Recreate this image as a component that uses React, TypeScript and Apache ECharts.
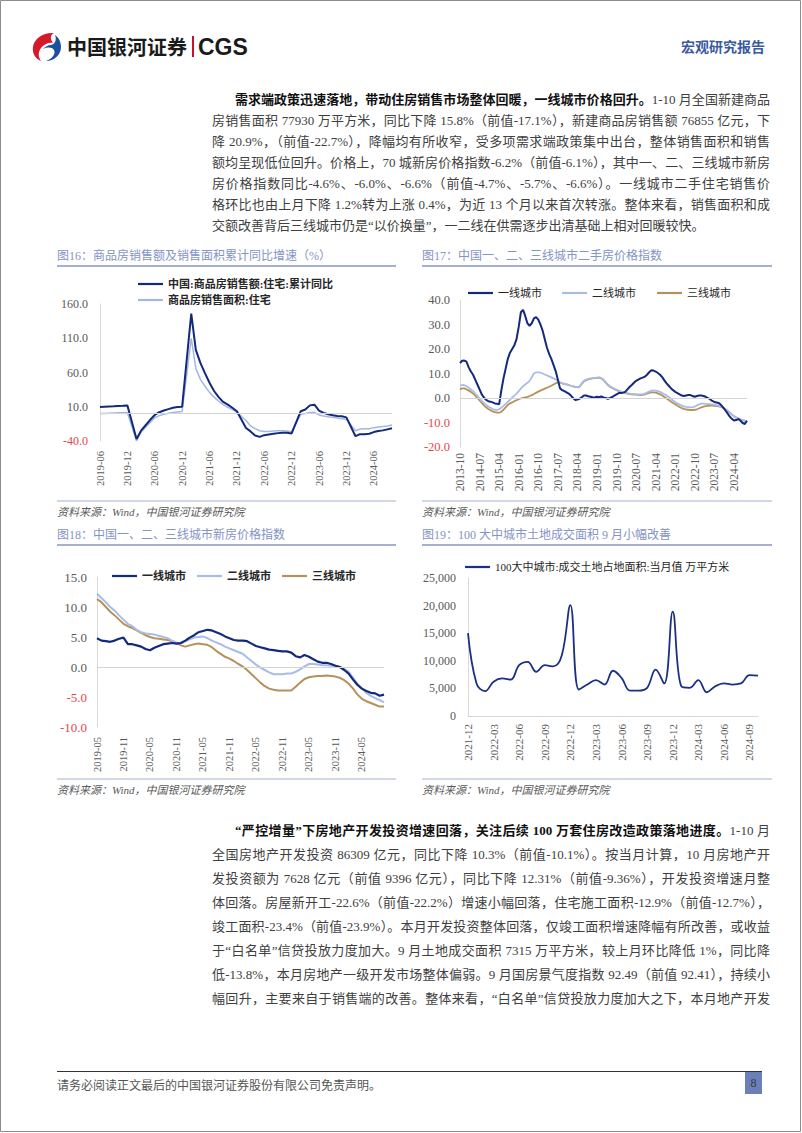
import React, { useEffect, useRef } from "react";
import * as echarts from "echarts";

// ---------- logo shapes ----------
const LOGO_RED =
  "M24 1 C14 0 4 6 3 15 C2 22 6 27 11 29 C8 25 8 20 11 16 C14 12 19 10 23 11 C20 7 20 3 24 1 Z";
const LOGO_BLUE =
  "M13 17 C17 15 22 15 24 18 C26 22 22 27 16 29 C24 29 31 23 31 15 C31 9 28 5 25 3 C27 8 25 12 21 13 C18 13 15 15 13 17 Z";
echarts.graphic.registerShape("logoRed", echarts.graphic.extendPath(LOGO_RED, {}));
echarts.graphic.registerShape("logoBlue", echarts.graphic.extendPath(LOGO_BLUE, {}));

function months(y: number, m: number, n: number): string[] {
  const out: string[] = [];
  for (let i = 0; i < n; i++) {
    const t = m - 1 + i;
    const yy = y + Math.floor(t / 12);
    const mm = (t % 12) + 1;
    out.push(`${yy}-${String(mm).padStart(2, "0")}`);
  }
  return out;
}

// ---------- Chart 16 data (2019-06 .. 2024-10) ----------
const cats16 = months(2019, 6, 65);
const sales16 = [
  9.5, 10.0, 10.5, 10.8, 11.2, 11.5, 12.0, null, -37.0, -25.0, -17.0, -9.0, -2.0, 2.0, 4.5, 6.5, 8.5, 9.5, 10.0,
  null, 146.0, 93.0, 74.0, 59.0, 45.0, 33.0, 24.0, 17.0, 13.0, 8.5, 3.5,
  null, -21.0, -26.0, -32.0, -34.0, -31.5, -30.5, -29.5, -28.5, -28.0, -28.0, -29.0,
  null, 3.5, 6.0, 12.0, 13.0, 4.5, 1.0, -1.0, -2.5, -3.5, -4.0, -5.5,
  null, -33.0, -30.0, -30.0, -29.5, -27.0, -25.5, -24.5, -23.0, -21.5,
];
const area16 = [
  0.0, 0.3, 0.6, 0.9, 1.2, 1.4, 1.5, null, -40.0, -27.0, -20.0, -13.0, -6.0, -3.0, -1.0, 0.5, 1.5, 2.5, 3.2,
  null, 110.0, 66.0, 50.0, 40.0, 31.0, 24.0, 18.0, 13.0, 9.0, 6.0, 2.0,
  null, -10.0, -18.0, -22.0, -25.0, -26.0, -26.0, -25.5, -25.0, -25.0, -25.5, -26.5,
  null, -1.0, 0.0, 1.5, 1.8, -2.0, -3.5, -4.5, -5.5, -6.5, -7.5, -8.2,
  null, -25.0, -22.5, -22.0, -22.0, -20.5, -19.5, -19.0, -18.0, -16.5,
];

// ---------- Chart 17 data (2013-10 .. 2024-10) ----------
const cats17 = months(2013, 10, 133);
const used1 = [
  14.3, 15.2, 15.3, 14.8, 12.5, 10.8, 9.5, 7.5, 5.5, 3.5, 1.5, 0.2, -0.8, -1.3, -1.5, -1.8, -2.2, -2.3, -2.6, 3.0,
  8.0, 12.0, 16.0, 18.5, 20.0, 21.5, 24.0, 29.0, 35.0, 36.0, 33.5, 30.5, 29.5, 30.5, 32.5, 33.0, 32.0, 30.0, 27.5, 24.0,
  20.5, 18.0, 16.0, 13.5, 11.0, 7.5, 4.0, 3.2, 2.8, 2.3, 1.8, 1.0, 0.0, -0.8, -0.6, -0.3, 0.3, 1.0, 1.0, 0.7,
  0.5, 0.3, 0.2, 0.5, 0.3, 0.6, 0.2, 0.0, -0.3, 0.0, 0.4, 1.0, 1.5, 2.0, 2.0, 2.2, 2.5, 3.5, 4.5, 5.3,
  6.2, 7.0, 7.5, 8.0, 8.3, 8.7, 9.5, 10.5, 11.3, 11.2, 10.8, 10.2, 9.5, 8.5, 7.2, 6.0, 5.0, 4.0, 3.2, 2.5,
  2.0, 1.5, 1.0, 0.8, 1.0, 1.2, 1.2, 0.8, 0.5, 0.8, 1.0, 1.0, 0.8, 0.5, 0.0, -0.5, -1.2, -1.6, -1.8, -2.0,
  -2.8, -3.8, -5.0, -6.2, -7.5, -8.5, -9.2, -9.0, -8.6, -9.3, -10.2, -10.6, -9.3,
];
const used2 = [
  5.0, 5.3, 5.2, 4.8, 4.2, 3.5, 2.8, 1.8, 0.8, -0.2, -1.2, -2.0, -2.8, -3.5, -4.0, -4.5, -4.8, -4.9, -4.6, -4.0,
  -3.2, -2.4, -1.6, -0.8, 0.2, 1.0, 1.8, 2.8, 3.8, 4.8, 5.5, 6.2, 7.0, 8.5, 10.0, 10.5, 10.5, 10.4, 10.0, 9.6,
  9.2, 8.8, 8.4, 8.0, 7.6, 7.0, 6.4, 6.0, 5.8, 5.6, 5.3, 5.0, 4.7, 4.5, 4.4, 4.8, 6.0, 7.0, 7.5, 7.8,
  8.0, 8.1, 8.2, 8.3, 8.4, 8.2, 7.5, 6.5, 5.5, 4.8, 4.3, 3.8, 3.4, 3.0, 2.7, 2.4, 2.2, 2.0, 1.8, 1.7,
  1.6, 1.6, 1.5, 1.5, 1.6, 1.8, 2.2, 2.6, 3.0, 3.0, 3.0, 2.8, 2.5, 2.0, 1.5, 1.0, 0.4, -0.3, -1.0, -1.6,
  -2.2, -2.7, -3.1, -3.4, -3.6, -3.7, -3.8, -3.7, -3.5, -3.0, -2.6, -2.3, -2.3, -2.4, -2.5, -2.5, -2.6, -2.7, -2.9, -3.1,
  -3.5, -4.0, -4.5, -5.2, -6.0, -6.8, -7.5, -8.0, -8.4, -8.8, -9.1, -9.3, -9.3,
];
const used3 = [
  3.5, 3.9, 3.9, 3.5, 3.0, 2.5, 1.8, 1.0, 0.0, -1.0, -2.0, -3.0, -3.8, -4.5, -5.0, -5.5, -5.8, -6.0, -6.0, -5.6,
  -4.8, -3.8, -2.8, -2.2, -1.8, -1.3, -0.9, -0.5, -0.2, 0.1, 0.3, 0.5, 0.8, 1.2, 1.6, 2.1, 2.6, 3.0, 3.4, 3.8,
  4.2, 4.6, 5.0, 5.5, 6.0, 6.4, 6.3, 6.0, 5.8, 5.6, 5.3, 5.0, 4.7, 4.5, 4.3, 4.6, 5.8, 6.8, 7.3, 7.6,
  7.8, 8.0, 8.1, 8.2, 8.3, 8.0, 7.3, 6.3, 5.3, 4.6, 4.1, 3.6, 3.2, 2.8, 2.5, 2.2, 2.0, 1.8, 1.6, 1.5,
  1.4, 1.4, 1.3, 1.2, 1.3, 1.5, 1.8, 2.1, 2.3, 2.3, 2.2, 1.9, 1.5, 1.0, 0.4, -0.2, -0.8, -1.4, -2.0, -2.6,
  -3.2, -3.7, -4.1, -4.4, -4.7, -4.8, -4.9, -4.9, -4.8, -4.6, -4.2, -3.8, -3.5, -3.3, -3.2, -3.1, -3.1, -3.2, -3.3, -3.4,
  -3.6, -4.0, -4.5, -5.2, -5.9, -6.7, -7.4, -7.9, -8.3, -8.7, -9.0, -9.2, -9.3,
];

// ---------- Chart 18 data (2019-05 .. 2024-10) ----------
const cats18 = months(2019, 5, 66);
const new1 = [
  4.8, 4.4, 4.3, 4.2, 4.4, 4.7, 4.9, 3.8, 3.8, 3.6, 3.4, 3.0, 2.8, 3.2, 3.5, 3.8, 3.9, 4.0, 3.9, 4.0,
  4.4, 4.9, 5.3, 5.8, 6.0, 6.2, 6.1, 5.8, 5.5, 5.1, 4.8, 4.5, 4.4, 4.4, 4.3, 3.9, 3.5, 3.3, 3.1, 2.9,
  2.8, 2.7, 2.6, 2.6, 2.4, 1.8, 1.6, 2.0, 1.7, 1.3, 0.9, 0.7, 0.7, 0.5, 0.2, 0.0, -0.5, -1.1, -2.1, -3.0,
  -3.6, -4.0, -4.3, -4.4, -4.8, -4.6,
];
const new2 = [
  12.2, 11.5, 10.8, 10.0, 9.4, 8.6, 7.9, 7.2, 6.8, 6.2, 5.8, 5.6, 5.5, 5.4, 5.2, 5.0, 4.8, 4.4, 4.1, 3.9,
  4.3, 4.6, 4.9, 5.0, 5.1, 4.8, 4.4, 4.1, 3.8, 3.4, 3.1, 2.8, 2.5, 2.2, 1.6, 1.0, 0.4, -0.1, -0.5, -0.9,
  -1.2, -1.2, -1.2, -1.1, -1.1, -0.8, -0.4, 0.1, 0.5, 0.5, 0.4, 0.3, 0.3, 0.2, 0.2, 0.0, -0.3, -0.8, -1.8, -2.8,
  -3.6, -4.3, -4.8, -5.2, -5.5, -5.9,
];
const new3 = [
  11.3, 10.8, 10.0, 9.2, 8.6, 7.9, 7.2, 6.8, 6.5, 6.1, 5.7, 5.3, 5.0, 4.8, 4.7, 4.6, 4.5, 4.3, 4.0, 3.6,
  3.4, 3.6, 3.8, 3.9, 3.8, 3.7, 3.3, 2.7, 2.2, 1.7, 1.4, 1.0, 0.5, 0.1, -0.5, -1.2, -1.9, -2.6, -3.2, -3.6,
  -3.8, -3.9, -3.9, -3.9, -3.9, -3.3, -2.6, -2.0, -1.7, -1.6, -1.5, -1.5, -1.4, -1.5, -1.6, -1.8, -2.2, -2.8, -3.6, -4.6,
  -5.3, -5.7, -6.0, -6.3, -6.6, -6.6,
];

// ---------- Chart 19 data (2021-12 .. 2024-10) ----------
const cats19 = months(2021, 12, 35);
const land19 = [
  15000, 5900, 4500, 6200, 6800, 6600, 9200, 9800, 8000, 9200, 9000, 11000, 20100, 4800, 5700, 6500, 5700, 8200,
  6900, 4600, 4600, 5100, 8400, 5900, 18900, 5400, 5100, 6500, 4300, 5400, 5900, 5700, 5900, 7400, 7315,
];

// ---------- text ----------
const NUM_FONT = '"Liberation Serif", "Noto Sans CJK SC", serif';
const CJK_FONT = '"Noto Sans CJK SC", sans-serif';
const DARK = "#13297b";
const LIGHT = "#a9bce6";
const TAN = "#b6915a";
const LABEL = "#595959";
const NEG = "#e5474b";
const AXIS = "#d9d9d9";
const TITLE = "#8593c6";
const RULE = "#a6b0d2";

const S16A = "中国:商品房销售额:住宅:累计同比";
const S16B = "商品房销售面积:住宅";
const T1 = "一线城市";
const T2 = "二线城市";
const T3 = "三线城市";
const S19 = "100大中城市:成交土地占地面积:当月值 万平方米";

const P1 = [
  { b: "需求端政策迅速落地，带动住房销售市场整体回暖，一线城市价格回升。", t: "1-10 月全国新建商品" },
  { b: "", t: "房销售面积 77930 万平方米，同比下降 15.8%（前值-17.1%），新建商品房销售额 76855 亿元，下" },
  { b: "", t: "降 20.9%，（前值-22.7%），降幅均有所收窄，受多项需求端政策集中出台，整体销售面积和销售" },
  { b: "", t: "额均呈现低位回升。价格上，70 城新房价格指数-6.2%（前值-6.1%），其中一、二、三线城市新房" },
  { b: "", t: "房价格指数同比-4.6%、-6.0%、-6.6%（前值-4.7%、-5.7%、-6.6%）。一线城市二手住宅销售价" },
  { b: "", t: "格环比也由上月下降 1.2%转为上涨 0.4%，为近 13 个月以来首次转涨。整体来看，销售面积和成" },
  { b: "", t: "交额改善背后三线城市仍是“以价换量”，一二线在供需逐步出清基础上相对回暖较快。", last: true },
];
const P2 = [
  { b: "“严控增量”下房地产开发投资增速回落，关注后续 100 万套住房改造政策落地进度。", t: "1-10 月" },
  { b: "", t: "全国房地产开发投资 86309 亿元，同比下降 10.3%（前值-10.1%）。按当月计算，10 月房地产开" },
  { b: "", t: "发投资额为 7628 亿元（前值 9396 亿元），同比下降 12.31%（前值-9.36%），开发投资增速月整" },
  { b: "", t: "体回落。房屋新开工-22.6%（前值-22.2%）增速小幅回落，住宅施工面积-12.9%（前值-12.7%），" },
  { b: "", t: "竣工面积-23.4%（前值-23.9%）。本月开发投资整体回落，仅竣工面积增速降幅有所改善，或收益" },
  { b: "", t: "于“白名单”信贷投放力度加大。9 月土地成交面积 7315 万平方米，较上月环比降低 1%，同比降" },
  { b: "", t: "低-13.8%，本月房地产一级开发市场整体偏弱。9 月国房景气度指数 92.49（前值 92.41），持续小" },
  { b: "", t: "幅回升，主要来自于销售端的改善。整体来看，“白名单”信贷投放力度加大之下，本月地产开发" },
];

function xAxisCfg(gridIndex: number, data: string[], interval: number, fontSize: number, margin: number, line: boolean) {
  return {
    type: "category",
    gridIndex,
    data,
    boundaryGap: false,
    axisLine: { show: line, onZero: false, lineStyle: { color: AXIS, width: 1 } },
    axisTick: { show: false },
    splitLine: { show: false },
    axisLabel: { rotate: 90, interval, fontSize, margin, color: LABEL, fontFamily: NUM_FONT },
  };
}

function yAxisCfg(gridIndex: number, min: number, max: number, interval: number, fontSize: number, margin: number, fmt: (v: number) => string, redNeg: boolean) {
  return {
    type: "value",
    gridIndex,
    min,
    max,
    interval,
    axisLine: { show: true, lineStyle: { color: AXIS, width: 1 } },
    axisTick: { show: false },
    splitLine: { show: false },
    axisLabel: {
      formatter: fmt,
      color: (v: any) => (redNeg && Number(v) < 0 ? NEG : LABEL),
      fontSize,
      margin,
      fontFamily: NUM_FONT,
    },
  };
}

const zeroLine = {
  silent: true,
  symbol: "none",
  label: { show: false },
  lineStyle: { color: "#d4d4d4", width: 1, type: "solid" },
  data: [{ yAxis: 0 }],
};

function lineSeries(name: string, x: number, data: any[], color: string, width: number, extra: any = {}) {
  return {
    type: "line",
    name,
    xAxisIndex: x,
    yAxisIndex: x,
    data,
    symbol: "none",
    connectNulls: true,
    lineStyle: { color, width },
    itemStyle: { color },
    emphasis: { disabled: true },
    ...extra,
  };
}

function legendAt(left: number, top: number, names: string[], bold: boolean, orient = "horizontal", gap = 10) {
  return {
    left,
    top,
    orient,
    padding: 0,
    itemGap: gap,
    icon: "rect",
    itemWidth: 25,
    itemHeight: 2.2,
    data: names,
    selectedMode: false,
    textStyle: { fontSize: 11, color: "#262626", fontWeight: bold ? "bold" : "normal", fontFamily: NUM_FONT, lineHeight: 14 },
  };
}

function txt(x: number, y: number, text: string, font: string, fill: string, align = "left") {
  return { type: "text", x, y, silent: true, style: { text, font, fill, align, verticalAlign: "middle" } };
}
function hline(x1: number, x2: number, y: number, stroke: string, w: number) {
  return { type: "line", silent: true, shape: { x1, y1: y, x2, y2: y }, style: { stroke, lineWidth: w } };
}

function buildOption(): any {
  const fmt1 = (v: number) => Number(v).toFixed(1);
  const fmtK = (v: number) => Number(v).toLocaleString("en-US");
  const srcText = "资料来源：Wind，中国银河证券研究院";
  const srcFont = `italic 11px ${NUM_FONT}`;
  const titleFont = `12px ${NUM_FONT}`;
  return {
    animation: false,
    grid: [
      { left: 100, top: 304, width: 292, height: 137 },
      { left: 460, top: 300, width: 287, height: 147 },
      { left: 97, top: 577, width: 287, height: 150 },
      { left: 468, top: 578, width: 290, height: 138 },
    ],
    xAxis: [
      xAxisCfg(0, cats16, 5, 10.5, 10, false),
      xAxisCfg(1, cats17, 8, 11.5, 6, false),
      xAxisCfg(2, cats18, 5, 10.5, 10, false),
      xAxisCfg(3, cats19, 2, 11, 8, true),
    ],
    yAxis: [
      yAxisCfg(0, -40, 160, 50, 12, 12, fmt1, true),
      yAxisCfg(1, -20, 40, 10, 12.5, 10, fmt1, true),
      yAxisCfg(2, -10, 15, 5, 13, 10, fmt1, true),
      yAxisCfg(3, 0, 25000, 5000, 12, 12, fmtK, false),
    ],
    legend: [
      legendAt(138, 277, [S16A, S16B], true, "vertical", 2),
      legendAt(468, 286, [T1], false),
      legendAt(562, 286, [T2], false),
      legendAt(657, 286, [T3], false),
      legendAt(112, 569, [T1], true),
      legendAt(197, 569, [T2], true),
      legendAt(282, 569, [T3], true),
      legendAt(465, 560, [S19], false),
    ],
    series: [
      lineSeries(S16B, 0, area16, "#a4b7e2", 1.5, { markLine: zeroLine }),
      lineSeries(S16A, 0, sales16, DARK, 2),
      lineSeries(T3, 1, used3, TAN, 1.8, { markLine: zeroLine }),
      lineSeries(T2, 1, used2, LIGHT, 1.8),
      lineSeries(T1, 1, used1, DARK, 2),
      lineSeries(T3, 2, new3, TAN, 2, { markLine: zeroLine }),
      lineSeries(T2, 2, new2, LIGHT, 2),
      lineSeries(T1, 2, new1, DARK, 2.2),
      lineSeries(S19, 3, land19, "#1b2f84", 1.8, { smooth: 0.4 }),
    ],
    graphic: [
      // page frame
      { type: "rect", silent: true, shape: { x: 0.5, y: 0.5, width: 800, height: 1131 }, style: { fill: "none", stroke: "#8c8c8c", lineWidth: 1 } },
      // header
      { type: "logoRed", x: 30, y: 32, scaleX: 1, scaleY: 1, silent: true, style: { fill: "#d7182a" } },
      { type: "logoBlue", x: 30, y: 32, scaleX: 1, scaleY: 1, silent: true, style: { fill: "#1d4fa0" } },
      txt(67, 46, "中国银河证券", `bold 20px ${CJK_FONT}`, "#1a1a1a"),
      { type: "rect", silent: true, shape: { x: 192, y: 36, width: 2, height: 21 }, style: { fill: "#c8102e" } },
      txt(198, 47, "CGS", `bold 23px "Liberation Sans", Arial, sans-serif`, "#1a1a1a"),
      txt(765, 46, "宏观研究报告", `bold 14px ${CJK_FONT}`, "#3b5a9f", "right"),
      // chart titles and rules
      txt(57, 256, "图16：商品房销售额及销售面积累计同比增速（%）", titleFont, TITLE),
      hline(57, 396, 266, RULE, 2),
      txt(422, 256, "图17：中国一、二、三线城市二手房价格指数", titleFont, TITLE),
      hline(422, 772, 266, RULE, 2),
      hline(57, 396, 501, RULE, 1),
      hline(422, 772, 501, RULE, 1),
      txt(57, 512, srcText, srcFont, "#595959"),
      txt(422, 512, srcText, srcFont, "#595959"),
      txt(57, 535, "图18：中国一、二、三线城市新房价格指数", titleFont, TITLE),
      hline(57, 396, 545, RULE, 2),
      txt(422, 535, "图19：100 大中城市土地成交面积 9 月小幅改善", titleFont, TITLE),
      hline(422, 772, 545, RULE, 2),
      hline(57, 396, 779, RULE, 1),
      hline(422, 772, 779, RULE, 1),
      txt(57, 790, srcText, srcFont, "#595959"),
      txt(422, 790, srcText, srcFont, "#595959"),
      // footer
      hline(57, 762, 1071.5, "#333333", 1),
      txt(57, 1084, "请务必阅读正文最后的中国银河证券股份有限公司免责声明。", `12px ${CJK_FONT}`, "#555555"),
      { type: "rect", silent: true, shape: { x: 745, y: 1072, width: 17, height: 22 }, style: { fill: "#6b80b9" } },
      txt(753.5, 1083, "8", `12px ${NUM_FONT}`, "#3a3a3a", "center"),
    ],
  };
}

function ParaLine(props: { x: number; y: number; w: number; b: string; t: string; last?: boolean }) {
  const { x, y, w, b, t, last } = props;
  const align: any = last ? "left" : "justify";
  return (
    <div
      style={{
        position: "absolute",
        left: x,
        top: y - 10,
        width: w,
        height: 20,
        lineHeight: "20px",
        fontSize: 13,
        fontFamily: NUM_FONT,
        color: "#404040",
        whiteSpace: "nowrap",
        textAlign: align,
        textAlignLast: align,
      }}
    >
      {b ? <span style={{ fontWeight: "bold", color: "#111" }}>{b}</span> : null}
      {t}
    </div>
  );
}

export default function App() {
  const ref = useRef<HTMLDivElement>(null);
  useEffect(() => {
    const chart = echarts.init(ref.current as HTMLDivElement, null, { renderer: "svg" });
    chart.setOption(buildOption());
    return () => chart.dispose();
  }, []);
  return (
    <div style={{ position: "absolute", left: 0, top: 0, width: 802, height: 1133, overflow: "hidden", background: "#fff" }}>
      <div ref={ref} style={{ position: "absolute", left: 0, top: 0, width: 802, height: 1133 }} />
      {P1.map((l, i) => (
        <ParaLine key={"p1" + i} x={i === 0 ? 235 : 212} y={100 + i * 21} w={i === 0 ? 535 : 558} b={l.b} t={l.t} last={(l as any).last} />
      ))}
      {P2.map((l, i) => (
        <ParaLine key={"p2" + i} x={i === 0 ? 235 : 212} y={831 + i * 24} w={i === 0 ? 535 : 558} b={l.b} t={l.t} />
      ))}
    </div>
  );
}
